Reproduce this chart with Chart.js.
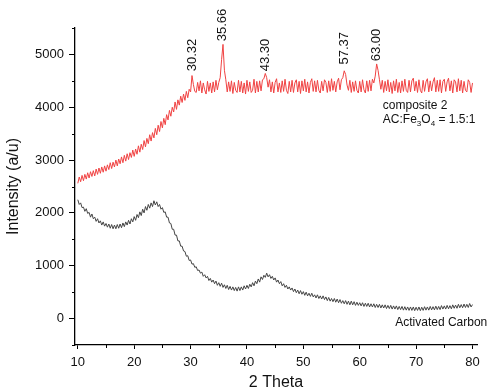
<!DOCTYPE html>
<html>
<head>
<meta charset="utf-8">
<script src="https://cdn.jsdelivr.net/npm/chart.js@4.4.1/dist/chart.umd.min.js"></script>
<style>
  html, body { margin: 0; padding: 0; background: #fff; }
  #wrap { width: 493px; height: 392px; position: relative; }
</style>
</head>
<body>
<div id="wrap"><canvas id="xrdChart"></canvas></div>
<script>
// 2 theta sampling (degrees), one reading every 0.25
const thetaStart = 10;
const thetaStep = 0.25;

// composite 2 (AC:Fe3O4 = 1.5:1)
const compositeValues = [
  2560, 2680, 2590, 2710,  2610, 2730, 2640, 2760,  2660, 2780, 2690, 2800,
  2700, 2830, 2730, 2850,  2750, 2870, 2770, 2890,  2790, 2910, 2820, 2950,
  2840, 2960, 2870, 3000,  2890, 3020, 2930, 3060,  2950, 3090, 2980, 3120,
  3010, 3140, 3050, 3190,  3070, 3210, 3110, 3270,  3150, 3300, 3200, 3370,
  3250, 3410, 3310, 3480,  3360, 3520, 3420, 3600,  3480, 3660, 3540, 3730,
  3610, 3790, 3670, 3860,  3760, 3940, 3830, 4000,  3910, 4100, 3960, 4140,
  4040, 4210, 4090, 4250,  4130, 4300, 4180, 4340,  4290, 4600, 4430, 4300,
  4280, 4470, 4310, 4500,  4270, 4460, 4330, 4250,  4490, 4300, 4460, 4270,
  4480, 4290, 4510, 4330,  4470, 4560, 4900, 5190,  4700, 4520, 4290, 4480,
  4300, 4500, 4260, 4470,  4320, 4280, 4510, 4290,  4490, 4270, 4460, 4250,
  4510, 4300, 4480, 4280,  4320, 4530, 4270, 4490,  4290, 4500, 4310, 4520,
  4540, 4640, 4560, 4380,  4520, 4290, 4480, 4270,  4470, 4540, 4290, 4460,
  4280, 4500, 4300, 4530,  4320, 4260, 4490, 4290,  4510, 4280, 4460, 4520,
  4290, 4490, 4260, 4500,  4310, 4530, 4290, 4480,  4270, 4470, 4540, 4300,
  4500, 4290, 4510, 4320,  4270, 4490, 4310, 4520,  4470, 4280, 4500, 4300,
  4540, 4320, 4490, 4290,  4480, 4550, 4330, 4520,  4560, 4690, 4620, 4420,
  4320, 4510, 4280, 4480,  4300, 4500, 4320, 4270,  4490, 4290, 4520, 4330,
  4270, 4500, 4300, 4510,  4310, 4530, 4460, 4590,  4820, 4700, 4520, 4340,
  4510, 4280, 4490, 4310,  4520, 4290, 4470, 4260,  4500, 4310, 4530, 4280,
  4470, 4270, 4500, 4300,  4530, 4320, 4280, 4510,  4290, 4500, 4550, 4310,
  4490, 4280, 4520, 4320,  4270, 4510, 4300, 4480,  4540, 4290, 4500, 4310,
  4480, 4560, 4290, 4510,  4300, 4520, 4270, 4490,  4530, 4300, 4480, 4550,
  4310, 4500, 4270, 4520,  4480, 4290, 4540, 4310,  4510, 4270, 4490, 4320,
  4290, 4520, 4470, 4280,  4460
];

// activated carbon
const carbonValues = [
  2250, 2160, 2190, 2100,  2110, 2030, 2080, 1990,  2010, 1920, 1980, 1890,
  1920, 1840, 1890, 1810,  1850, 1770, 1830, 1750,  1800, 1730, 1790, 1710,
  1780, 1700, 1770, 1700,  1780, 1710, 1790, 1720,  1810, 1740, 1830, 1770,
  1860, 1790, 1890, 1830,  1930, 1860, 1970, 1910,  2020, 1950, 2070, 2000,
  2120, 2050, 2160, 2090,  2190, 2120, 2230, 2150,  2210, 2120, 2160, 2070,
  2100, 2010, 2020, 1920,  1920, 1810, 1800, 1690,  1690, 1580, 1580, 1470,
  1470, 1370, 1370, 1280,  1270, 1180, 1190, 1100,  1110, 1030, 1040, 970,
  980, 910, 920, 860,      880, 800, 830, 770,      800, 720, 760, 690,
  730, 660, 710, 630,      680, 610, 670, 590,      640, 570, 630, 550,
  610, 540, 600, 530,      590, 520, 600, 530,      600, 540, 620, 560,
  630, 570, 650, 600,      680, 620, 710, 660,      750, 690, 790, 740,
  820, 780, 860, 790,      830, 760, 800, 730,      770, 690, 730, 660,
  700, 620, 660, 590,      630, 560, 600, 540,      580, 510, 560, 490,
  540, 470, 530, 460,      510, 440, 500, 430,      480, 420, 480, 410,
  450, 390, 450, 380,      430, 370, 430, 360,      410, 340, 400, 330,
  380, 320, 380, 310,      370, 300, 360, 290,      340, 280, 340, 270,
  330, 260, 330, 260,      320, 250, 310, 250,      300, 240, 300, 230,
  290, 230, 290, 220,      280, 220, 280, 210,      270, 210, 270, 200,
  260, 200, 260, 190,      250, 190, 250, 180,      240, 180, 240, 170,
  230, 170, 230, 160,      225, 160, 220, 155,      220, 155, 220, 150,
  215, 155, 220, 150,      215, 155, 225, 160,      220, 160, 230, 165,
  225, 165, 235, 170,      230, 170, 245, 180,      240, 180, 250, 185,
  245, 185, 260, 195,      255, 195, 270, 205,      265, 205, 275, 210,
  270, 210, 285, 220,      265
];

// axis ticks
const xTicks = [10, 20, 30, 40, 50, 60, 70, 80];
const xMinorTicks = [15, 25, 35, 45, 55, 65, 75];
const yTicks = [0, 1000, 2000, 3000, 4000, 5000];
const yMinorTicks = [-500, 500, 1500, 2500, 3500, 4500, 5500];

// peak labels on the composite trace
const peakLabels = ["30.32", "35.66", "43.30", "57.37", "63.00"];
const peakPositions = [30.32, 35.66, 43.30, 57.37, 63.00];
const peakLabelBase = [4680, 5250, 4680, 4810, 4870];

const thetas = compositeValues.map((_, i) => thetaStart + i * thetaStep);
const toPoints = vals => vals.map((v, i) => ({ x: thetas[i], y: v }));

// minor ticks, peak labels and trace captions
const overlay = {
    id: "overlay",
    afterDraw(chart) {
        const { ctx } = chart;
        const x = chart.scales.x, y = chart.scales.y;
        ctx.save();
        ctx.strokeStyle = "#000";
        ctx.lineWidth = 1;
        xMinorTicks.forEach(v => {
            const px = Math.round(x.getPixelForValue(v)) + 0.5;
            ctx.beginPath();
            ctx.moveTo(px, y.bottom);
            ctx.lineTo(px, y.bottom + 3);
            ctx.stroke();
        });
        yMinorTicks.forEach(v => {
            const py = Math.round(y.getPixelForValue(v)) + 0.5;
            ctx.beginPath();
            ctx.moveTo(x.left, py);
            ctx.lineTo(x.left - 3, py);
            ctx.stroke();
        });

        ctx.fillStyle = "#111";
        ctx.font = "13px 'Liberation Sans', Arial, sans-serif";
        ctx.textAlign = "left";
        ctx.textBaseline = "middle";
        peakLabels.forEach((txt, i) => {
            ctx.save();
            ctx.translate(x.getPixelForValue(peakPositions[i]), y.getPixelForValue(peakLabelBase[i]));
            ctx.rotate(-Math.PI / 2);
            ctx.fillText(txt, 0, 0);
            ctx.restore();
        });

        ctx.font = "12px 'Liberation Sans', Arial, sans-serif";
        ctx.fillText("composite 2", x.getPixelForValue(64.1), y.getPixelForValue(4030));
        // AC:Fe3O4 = 1.5:1 with subscripts
        let cx = x.getPixelForValue(64.1);
        const cy = y.getPixelForValue(3760);
        const parts = [["AC:Fe", 0], ["3", 1], ["O", 0], ["4", 1], [" = 1.5:1", 0]];
        parts.forEach(([t, sub]) => {
            ctx.font = sub ? "8px 'Liberation Sans', Arial, sans-serif" : "12px 'Liberation Sans', Arial, sans-serif";
            ctx.fillText(t, cx, sub ? cy + 4 : cy);
            cx += ctx.measureText(t).width;
        });
        ctx.font = "12px 'Liberation Sans', Arial, sans-serif";
        ctx.fillText("Activated Carbon", x.getPixelForValue(66.3), y.getPixelForValue(-80));
        ctx.restore();
    }
};

const tickFont = { family: "'Liberation Sans', Arial, sans-serif", size: 13 };
const titleFont = { family: "'Liberation Sans', Arial, sans-serif", size: 16 };

new Chart(document.getElementById("xrdChart"), {
    type: "line",
    data: {
        datasets: [
            {
                label: "composite 2",
                data: toPoints(compositeValues),
                borderColor: "#f04242",
                borderWidth: 1,
                pointRadius: 0,
                tension: 0
            },
            {
                label: "Activated Carbon",
                data: toPoints(carbonValues),
                borderColor: "#444444",
                borderWidth: 1,
                pointRadius: 0,
                tension: 0
            }
        ]
    },
    options: {
        responsive: true,
        maintainAspectRatio: false,
        animation: false,
        events: [],
        layout: { padding: { top: 28, right: 16, left: 0, bottom: 0 } },
        plugins: { legend: { display: false }, tooltip: { enabled: false } },
        scales: {
            x: {
                type: "linear",
                min: 9.5,
                max: 80.8,
                afterBuildTicks: s => { s.ticks = xTicks.map(v => ({ value: v })); },
                afterFit: s => { s.height = 47; },
                ticks: { font: tickFont, color: "#111", padding: 6, maxRotation: 0, callback: v => String(v) },
                grid: { display: true, drawOnChartArea: false, drawTicks: true, tickLength: 4, tickColor: "#000" },
                border: { display: true, color: "#000", width: 1.3 },
                title: { display: true, text: "2 Theta", font: titleFont, color: "#111", padding: { top: 0, bottom: 0 } }
            },
            y: {
                type: "linear",
                min: -500,
                max: 5500,
                afterBuildTicks: s => { s.ticks = yTicks.map(v => ({ value: v })); },
                afterFit: s => { s.width = 75; },
                ticks: { font: tickFont, color: "#111", padding: 5, callback: v => String(v) },
                grid: { display: true, drawOnChartArea: false, drawTicks: true, tickLength: 6, tickColor: "#000" },
                border: { display: true, color: "#000", width: 1.3 },
                title: { display: true, text: "Intensity (a/u)", font: titleFont, color: "#111", padding: { top: 4, bottom: 4 } }
            }
        }
    },
    plugins: [overlay]
});
</script>
</body>
</html>
